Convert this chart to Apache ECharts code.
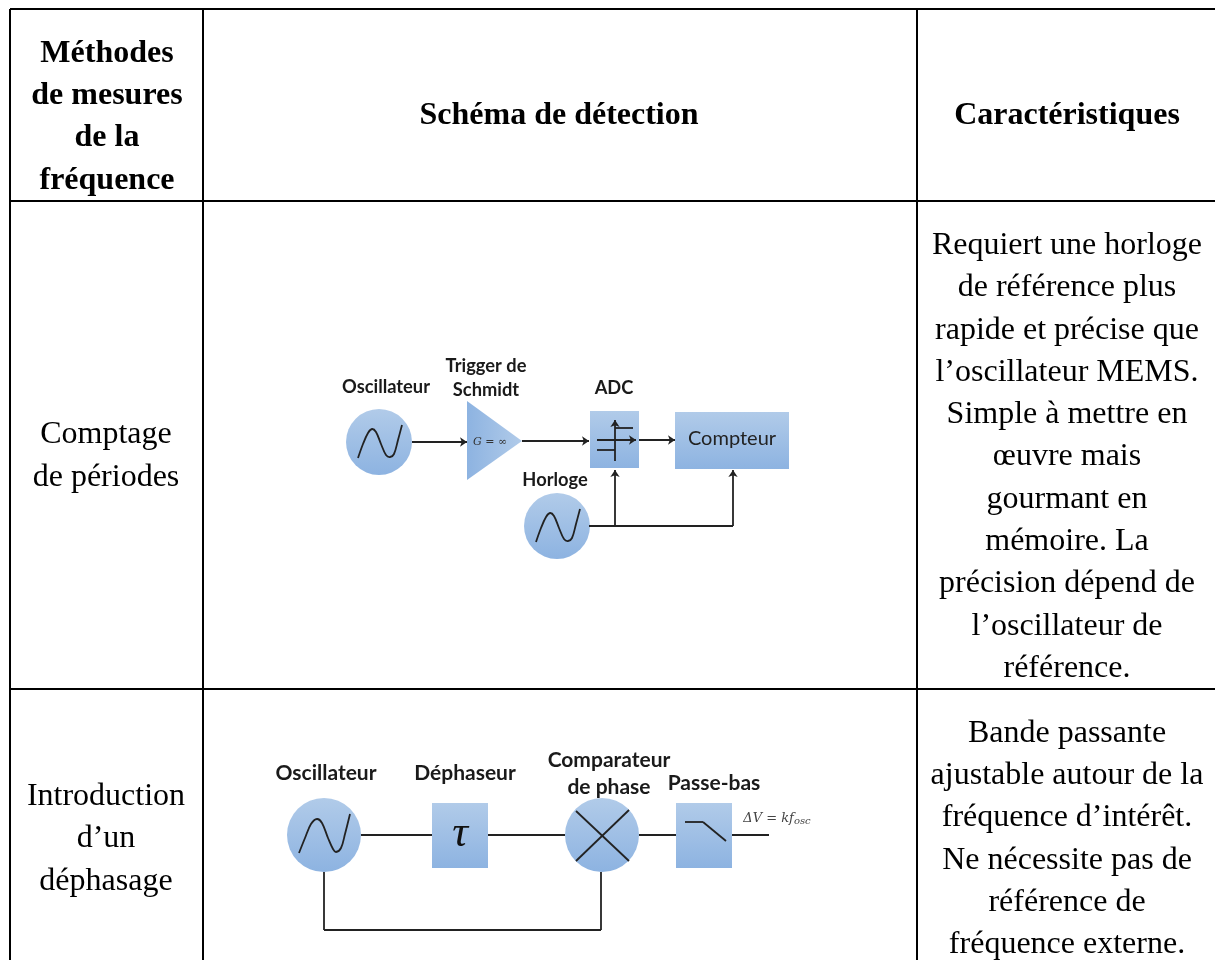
<!DOCTYPE html>
<html>
<head>
<meta charset="utf-8">
<title>Méthodes de mesures de la fréquence</title>
<script src="https://cdn.jsdelivr.net/npm/echarts@6/dist/echarts.min.js"></script>
<style>
html, body { margin: 0; padding: 0; background: #fff; }
#main { width: 1215px; height: 960px; }
</style>
</head>
<body>
<div id="main"></div>
<script>
// table text
var headers = ['Méthodes\nde mesures\nde la\nfréquence', 'Schéma de détection', 'Caractéristiques'];
var methods = ['Comptage\nde périodes', 'Introduction\nd’un\ndéphasage'];
var traits = [
    'Requiert une horloge\nde référence plus\nrapide et précise que\nl’oscillateur MEMS.\nSimple à mettre en\nœuvre mais\ngourmant en\nmémoire. La\nprécision dépend de\nl’oscillateur de\nréférence.',
    'Bande passante\najustable autour de la\nfréquence d’intérêt.\nNe nécessite pas de\nréférence de\nfréquence externe.'
];

// diagram text
var countingLabels = ['Oscillateur', 'Trigger de', 'Schmidt', 'ADC', 'Horloge'];
var phaseLabels = ['Oscillateur', 'Déphaseur', 'Comparateur', 'de phase', 'Passe-bas'];

// anchors of the text above, in page units
var headerAnchors = [[107, 117], [559, 116], [1067, 116]];
var methodAnchors = [[106, 456], [106, 839]];
var traitAnchors = [[1067, 457], [1067, 839]];
var countingAnchors = [[386, 387], [486, 366], [486, 390], [614, 388], [555, 480]];
var phaseAnchors = [[326, 773], [465, 773], [609, 760], [609, 787], [714, 783]];

var tableRules = [
    [[10, 9], [1215, 9]], [[10, 201], [1215, 201]], [[10, 689], [1215, 689]],
    [[10, 9], [10, 960]], [[203, 9], [203, 960]], [[917, 9], [917, 960]]
];
var circles = [[379, 442, 33], [557, 526, 33], [324, 835, 37], [602, 835, 37]];
var boxes = [[590, 411, 639, 468], [675, 412, 789, 469], [432, 803, 488, 868], [676, 803, 732, 868]];
var triangle = [[467, 401], [467, 480], [522, 441]];
var arrows = [
    [[412, 442], [467, 442]], [[522, 441], [589, 441]], [[639, 440], [675, 440]],
    [[615, 526], [615, 470]], [[733, 526], [733, 470]],
    [[597, 440], [636, 440]], [[615, 461], [615, 420]]
];
var wires = [
    [[589, 526], [733, 526]],
    [[615, 428], [633, 428]], [[597, 450], [615, 450]],
    [[361, 835], [432, 835]], [[488, 835], [565, 835]], [[639, 835], [676, 835]], [[732, 835], [769, 835]],
    [[324, 872], [324, 930]], [[324, 930], [601, 930]], [[601, 930], [601, 872]],
    [[576, 811], [629, 861]], [[629, 810], [576, 861]],
    [[685, 822], [703, 822]], [[703, 822], [726, 841]]
];
var waves = [
    [[358, 458], [363, 444], [368, 433], [372, 429], [376, 432], [381, 444], [386, 455], [390, 457], [394, 454], [398, 440], [402, 425]],
    [[536, 542], [541, 528], [546, 517], [550, 513], [554, 516], [559, 528], [564, 539], [568, 541], [572, 538], [576, 524], [580, 509]],
    [[299, 853], [305, 838], [311, 824], [317, 819], [322, 823], [328, 838], [333, 849], [336, 852], [341, 848], [345, 834], [350, 814]]
];
var gainText = [[490, 442]];
var tauText = [[460, 834]];
var counterText = [[732, 439]];
var outputText = [[777, 819]];

var topColor = '#b1cbe9';
var bottomColor = '#8db3e1';
var wireColor = '#222222';

function blueFill(horizontal) {
    return horizontal
        ? new echarts.graphic.LinearGradient(0, 0, 1, 0, [{offset: 0, color: bottomColor}, {offset: 1, color: topColor}])
        : new echarts.graphic.LinearGradient(0, 0, 0, 1, [{offset: 0, color: topColor}, {offset: 1, color: bottomColor}]);
}

function textSeries(name, texts, anchors, font, z) {
    return {
        name: name,
        type: 'custom',
        coordinateSystem: 'cartesian2d',
        clip: false,
        silent: true,
        z: z || 5,
        data: anchors,
        renderItem: function (params, api) {
            var p = api.coord([api.value(0), api.value(1)]);
            return {
                type: 'text',
                style: Object.assign({
                    x: p[0],
                    y: p[1],
                    text: texts[params.dataIndex],
                    align: 'center',
                    verticalAlign: 'middle',
                    fill: '#000'
                }, font)
            };
        }
    };
}

var bodyFont = {font: '32px "Liberation Serif"', lineHeight: 42.3};
var headFont = {font: 'bold 32px "Liberation Serif"', lineHeight: 42.3};
var labelSmall = {font: 'bold 18.3px Lato', fill: '#1a1a1a'};
var labelLarge = {font: 'bold 21px Lato', fill: '#1a1a1a'};

var myChart = echarts.init(document.getElementById('main'));
var option = {
    animation: false,
    backgroundColor: '#fff',
    grid: {left: 0, right: 0, top: 0, bottom: 0},
    xAxis: {type: 'value', min: 0, max: 1215, show: false},
    yAxis: {type: 'value', min: 0, max: 960, inverse: true, show: false},
    series: [
        {
            name: 'table',
            type: 'lines',
            coordinateSystem: 'cartesian2d',
            silent: true,
            z: 1,
            lineStyle: {color: '#000', width: 2, opacity: 1},
            data: tableRules.map(function (r) { return {coords: r}; })
        },
        {
            name: 'wires',
            type: 'lines',
            coordinateSystem: 'cartesian2d',
            silent: true,
            z: 4,
            lineStyle: {color: wireColor, width: 1.8, opacity: 1},
            data: wires.map(function (r) { return {coords: r}; })
        },
        {
            name: 'arrows',
            type: 'lines',
            coordinateSystem: 'cartesian2d',
            silent: true,
            z: 4,
            symbol: ['none', 'arrow'],
            symbolSize: 7,
            lineStyle: {color: wireColor, width: 1.8, opacity: 1},
            data: arrows.map(function (r) { return {coords: r}; })
        },
        {
            name: 'circles',
            type: 'custom',
            coordinateSystem: 'cartesian2d',
            silent: true,
            z: 3,
            data: circles,
            renderItem: function (params, api) {
                var c = api.coord([api.value(0), api.value(1)]);
                return {
                    type: 'circle',
                    shape: {cx: c[0], cy: c[1], r: api.value(2)},
                    style: {fill: blueFill(false)}
                };
            }
        },
        {
            name: 'boxes',
            type: 'custom',
            coordinateSystem: 'cartesian2d',
            silent: true,
            z: 3,
            data: boxes,
            renderItem: function (params, api) {
                var a = api.coord([api.value(0), api.value(1)]);
                var b = api.coord([api.value(2), api.value(3)]);
                return {
                    type: 'rect',
                    shape: {x: a[0], y: a[1], width: b[0] - a[0], height: b[1] - a[1]},
                    style: {fill: blueFill(false)}
                };
            }
        },
        {
            name: 'trigger',
            type: 'custom',
            coordinateSystem: 'cartesian2d',
            silent: true,
            z: 3,
            data: [0],
            renderItem: function (params, api) {
                return {
                    type: 'polygon',
                    shape: {points: triangle.map(function (p) { return api.coord(p); })},
                    style: {fill: blueFill(true)}
                };
            }
        },
        {
            name: 'waves',
            type: 'custom',
            coordinateSystem: 'cartesian2d',
            silent: true,
            z: 4,
            data: waves.map(function (w, i) { return [i]; }),
            renderItem: function (params, api) {
                return {
                    type: 'polyline',
                    shape: {
                        points: waves[params.dataIndex].map(function (p) { return api.coord(p); }),
                        smooth: 0.35
                    },
                    style: {fill: null, stroke: wireColor, lineWidth: 1.8}
                };
            }
        },
        textSeries('headers', headers, headerAnchors, headFont),
        textSeries('methods', methods, methodAnchors, bodyFont),
        textSeries('traits', traits, traitAnchors, bodyFont),
        textSeries('countingLabels', countingLabels, countingAnchors, labelSmall),
        textSeries('phaseLabels', phaseLabels, phaseAnchors, labelLarge),
        textSeries('gain', ['G = ∞'], gainText, {font: 'italic 11px "DejaVu Serif"', fill: '#333'}),
        textSeries('tau', ['τ'], tauText, {font: 'italic 44px "Liberation Serif"', fill: '#111'}),
        textSeries('counter', ['Compteur'], counterText, {font: '20px Lato', fill: '#222'}),
        {
            name: 'output',
            type: 'custom',
            coordinateSystem: 'cartesian2d',
            silent: true,
            z: 5,
            data: outputText,
            renderItem: function (params, api) {
                var p = api.coord([api.value(0), api.value(1)]);
                return {
                    type: 'text',
                    style: {
                        x: p[0],
                        y: p[1],
                        text: '{m|ΔV = kf}{s|osc}',
                        align: 'center',
                        verticalAlign: 'middle',
                        rich: {
                            m: {font: 'italic 13px "DejaVu Serif"', fill: '#444'},
                            s: {font: 'italic 10px "DejaVu Serif"', fill: '#444', verticalAlign: 'bottom', padding: [4, 0, 0, 0]}
                        }
                    }
                };
            }
        }
    ]
};

myChart.setOption(option);
</script>
</body>
</html>
